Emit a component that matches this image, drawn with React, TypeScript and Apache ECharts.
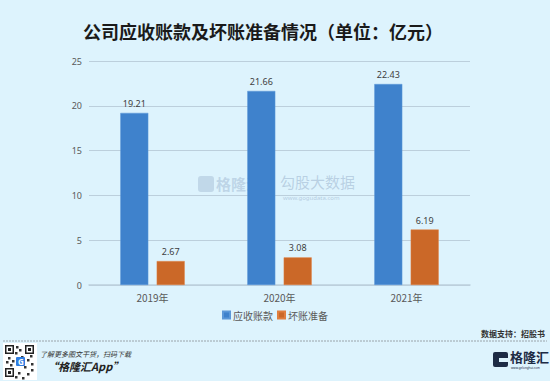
import React, { useEffect, useRef } from "react";
import * as echarts from "echarts";

const categories = ["2019年", "2020年", "2021年"];
const receivables = [19.21, 21.66, 22.43];
const badDebt = [2.67, 3.08, 6.19];
const seriesNames = ["应收账款", "坏账准备"];
const yTicks = { min: 0, max: 25, interval: 5 };

export default function App() {
  const ref = useRef<HTMLDivElement>(null);
  useEffect(() => {
    if (!ref.current) return;
    const chart = echarts.init(ref.current, undefined, { renderer: "svg" });
    const labelStyle = {
      show: true,
      position: "top" as const,
      distance: 5,
      fontSize: 9,
      color: "#404040",
      fontFamily: "Noto Sans",
    };
    const qrCells: any[] = [];
    const finder = (x: number, y: number) => [
      { type: "rect", shape: { x, y, width: 9, height: 9 }, style: { fill: "#222" } },
      { type: "rect", shape: { x: x + 1.5, y: y + 1.5, width: 6, height: 6 }, style: { fill: "#fff" } },
      { type: "rect", shape: { x: x + 3, y: y + 3, width: 3, height: 3 }, style: { fill: "#222" } },
    ];
    qrCells.push(...finder(5, 345), ...finder(25, 345), ...finder(5, 368));
    const pattern = [
      [16, 346], [19, 349], [15, 352], [21, 356], [8, 357], [12, 360], [27, 359],
      [31, 363], [24, 366], [18, 372], [27, 373], [31, 369], [15, 376], [22, 377],
      [10, 364], [30, 355], [18, 362], [6, 361],
    ];
    pattern.forEach(([x, y]) =>
      qrCells.push({ type: "rect", shape: { x, y, width: 2.5, height: 2.5 }, style: { fill: "#333" } })
    );
    chart.setOption({
      animation: false,
      backgroundColor: "#DDF3FD",
      title: {
        text: "公司应收账款及坏账准备情况（单位：亿元）",
        left: 78,
        top: 17,
        textStyle: {
          fontSize: 18,
          fontWeight: "bold",
          color: "#1a1a1a",
          fontFamily: "Noto Sans CJK SC",
        },
      },
      legend: {
        data: seriesNames,
        bottom: 56,
        left: "center",
        itemWidth: 7,
        itemHeight: 7,
        itemGap: 4,
        icon: "rect",
        textStyle: { fontSize: 10, color: "#595959", fontFamily: "Noto Sans CJK SC", padding: [0, 0, 0, -2] },
      },
      grid: { left: 89, right: 80, top: 61, bottom: 96 },
      xAxis: {
        type: "category",
        data: categories,
        axisLine: { lineStyle: { color: "#BCCFDC", width: 1.5 } },
        axisTick: { show: false },
        axisLabel: { fontSize: 10, color: "#595959", margin: 7, fontFamily: "Noto Sans CJK SC" },
      },
      yAxis: {
        type: "value",
        min: yTicks.min,
        max: yTicks.max,
        interval: yTicks.interval,
        axisLine: { show: false },
        axisTick: { show: false },
        axisLabel: { fontSize: 9, color: "#595959", margin: 7, fontFamily: "Noto Sans" },
        splitLine: { lineStyle: { color: "#BCCFDC", width: 1 } },
      },
      series: [
        {
          name: seriesNames[0],
          type: "bar",
          data: receivables,
          barWidth: 28,
          barGap: "30%",
          itemStyle: { color: "#3F82CC", borderColor: "#5C98D8", borderWidth: 0.5 },
          label: labelStyle,
        },
        {
          name: seriesNames[1],
          type: "bar",
          data: badDebt,
          barWidth: 28,
          itemStyle: { color: "#CB6828", borderColor: "#E07E3E", borderWidth: 0.5 },
          label: labelStyle,
        },
      ],
      graphic: [
        // watermark
        {
          type: "rect",
          shape: { x: 198, y: 176, width: 16, height: 16, r: 3 },
          style: { fill: "rgba(140,165,195,0.35)" },
          silent: true,
        },
        {
          type: "text",
          left: 216,
          top: 176,
          silent: true,
          style: { text: "格隆汇", fontSize: 15, fontWeight: "bold", fill: "rgba(140,165,195,0.4)", fontFamily: "Noto Sans CJK SC" },
        },
        {
          type: "text",
          left: 280,
          top: 174,
          silent: true,
          style: { text: "勾股大数据", fontSize: 15, fill: "rgba(140,165,195,0.45)", fontFamily: "Noto Sans CJK SC" },
        },
        {
          type: "text",
          left: 283,
          top: 195,
          silent: true,
          style: { text: "www.gogudata.com", fontSize: 6, fill: "rgba(140,165,195,0.5)", fontFamily: "Noto Sans" },
        },
        // footer
        {
          type: "line",
          shape: { x1: 3, y1: 341, x2: 547, y2: 341 },
          style: { stroke: "#9aa4aa", lineWidth: 1, lineDash: [2, 1] },
        },
        {
          type: "text",
          right: 5,
          top: 329,
          style: { text: "数据支持：招股书", fontSize: 8, fontWeight: "bold", fill: "#333", fontFamily: "Noto Sans CJK SC" },
        },
        { type: "rect", shape: { x: 3, y: 343, width: 34, height: 37 }, style: { fill: "#fff" } },
        ...qrCells,
        { type: "rect", shape: { x: 16, y: 357, width: 9, height: 9, r: 1 }, style: { fill: "#2f7de1" } },
        {
          type: "text",
          left: 18,
          top: 357,
          style: { text: "G", fontSize: 8, fontWeight: "bold", fill: "#fff", fontFamily: "Noto Sans" },
        },
        {
          type: "text",
          left: 40,
          top: 350,
          style: { text: "了解更多图文干货，扫码下载", fontSize: 7, fontStyle: "italic", fill: "#333", fontFamily: "Noto Sans CJK SC" },
        },
        {
          type: "text",
          left: 47,
          top: 360,
          style: { text: "“格隆汇App”", fontSize: 11, fontStyle: "italic", fontWeight: "bold", fill: "#222", fontFamily: "Noto Sans CJK SC" },
        },
        { type: "rect", shape: { x: 493, y: 352, width: 15, height: 15, r: 2 }, style: { fill: "#1d2b45" } },
        { type: "rect", shape: { x: 499, y: 358, width: 9, height: 4 }, style: { fill: "#DDF3FD" } },
        {
          type: "text",
          left: 510,
          top: 350,
          style: { text: "格隆汇", fontSize: 13, fontWeight: "bold", fill: "#1d2b45", fontFamily: "Noto Sans CJK SC" },
        },
        {
          type: "text",
          left: 511,
          top: 366,
          style: { text: "www.gelonghui.com", fontSize: 3, fill: "#1d2b45", fontFamily: "Noto Sans" },
        },
      ],
    });
    return () => chart.dispose();
  }, []);
  return (
    <div
      ref={ref}
      style={{ position: "fixed", left: 0, top: 0, width: 550, height: 381 }}
    />
  );
}
